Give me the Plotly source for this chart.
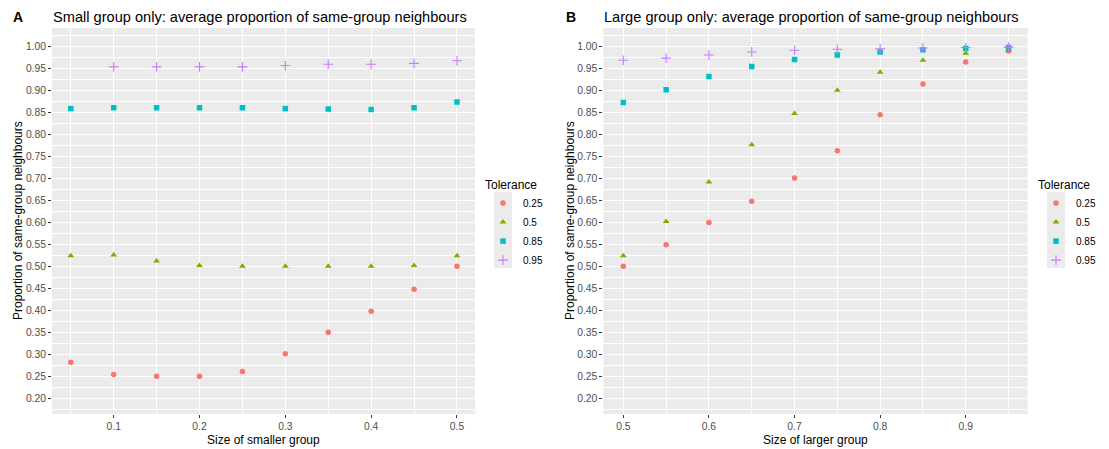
import plotly.graph_objects as go

# ---- data ----
tolerances = ["0.25", "0.5", "0.85", "0.95"]
small_sizes = [0.05, 0.10, 0.15, 0.20, 0.25, 0.30, 0.35, 0.40, 0.45, 0.50]
small_t025 = [0.282, 0.254, 0.250, 0.250, 0.261, 0.301, 0.350, 0.398, 0.448, 0.500]
small_t05 = [0.524, 0.526, 0.512, 0.502, 0.500, 0.500, 0.500, 0.500, 0.502, 0.524]
small_t085 = [0.859, 0.861, 0.861, 0.861, 0.861, 0.859, 0.858, 0.857, 0.861, 0.874]
small_t095 = [None, 0.954, 0.954, 0.954, 0.954, 0.957, 0.960, 0.960, 0.962, 0.968]

large_sizes = [0.50, 0.55, 0.60, 0.65, 0.70, 0.75, 0.80, 0.85, 0.90, 0.95]
large_t025 = [0.500, 0.549, 0.600, 0.648, 0.701, 0.763, 0.845, 0.915, 0.965, 0.990]
large_t05 = [0.524, 0.602, 0.692, 0.777, 0.848, 0.901, 0.942, 0.969, 0.985, 0.992]
large_t085 = [0.873, 0.902, 0.932, 0.955, 0.971, 0.981, 0.988, 0.993, 0.996, 0.998]
large_t095 = [0.969, 0.974, 0.981, 0.988, 0.992, 0.994, 0.995, 0.997, 0.998, 0.999]

y_ticks = [0.20, 0.25, 0.30, 0.35, 0.40, 0.45, 0.50, 0.55, 0.60, 0.65,
           0.70, 0.75, 0.80, 0.85, 0.90, 0.95, 1.00]
small_x_ticks = [0.1, 0.2, 0.3, 0.4, 0.5]
large_x_ticks = [0.5, 0.6, 0.7, 0.8, 0.9]

colors = ["#F8766D", "#7CAE00", "#00BFC4", "#C77CFF"]
symbols = ["circle", "triangle-up", "square", "cross-thin"]

W, H = 1109, 449
FONT = "Liberation Sans, Arial, sans-serif"


def px_x(p):
    return p / W


def px_y(p):
    return 1 - p / H


fig = go.Figure()

small_series = [small_t025, small_t05, small_t085, small_t095]
large_series = [large_t025, large_t05, large_t085, large_t095]


def marker(i):
    if symbols[i] == "cross-thin":
        return dict(symbol="cross-thin", size=7, color=colors[i],
                    line=dict(color=colors[i], width=1.1))
    size = {"circle": 5.5, "triangle-up": 6, "square": 5.5}[symbols[i]]
    return dict(symbol=symbols[i], size=size, color=colors[i], line=dict(width=0))


for i, t in enumerate(tolerances):
    fig.add_trace(go.Scatter(x=small_sizes, y=small_series[i], mode="markers",
                             name=t, marker=marker(i), xaxis="x", yaxis="y",
                             legend="legend"))
for i, t in enumerate(tolerances):
    fig.add_trace(go.Scatter(x=large_sizes, y=large_series[i], mode="markers",
                             name=t, marker=marker(i), xaxis="x2", yaxis="y2",
                             legend="legend2"))

tickfont = dict(family=FONT, size=10.3, color="#4D4D4D")
titlefont = dict(family=FONT, size=12, color="black")


def minor_between(vals):
    step = vals[1] - vals[0]
    out = [round(vals[0] - step / 2, 4)]
    out += [round(v + step / 2, 4) for v in vals]
    return out


common = dict(showgrid=True, gridcolor="white", gridwidth=1.1,
              ticks="outside", ticklen=3, tickcolor="#333333", tickwidth=1,
              tickfont=tickfont, zeroline=False, showline=False, automargin=False)

yax = dict(common, range=[0.164, 1.0425], tickmode="array",
           tickvals=y_ticks, ticktext=["%.2f" % v for v in y_ticks],
           minor=dict(tickmode="array", tickvals=minor_between(y_ticks),
                      showgrid=True, gridcolor="white", gridwidth=0.5),
           domain=[px_y(414), px_y(28)])

fig.update_layout(
    width=W, height=H,
    margin=dict(l=0, r=0, t=0, b=0),
    paper_bgcolor="white", plot_bgcolor="#EBEBEB",
    font=dict(family=FONT),
    xaxis=dict(common, range=[0.0281, 0.521], tickmode="array",
               tickvals=small_x_ticks, ticktext=[str(v) for v in small_x_ticks],
               minor=dict(tickmode="array", tickvals=minor_between(small_x_ticks),
                          showgrid=True, gridcolor="white", gridwidth=0.5),
               domain=[px_x(52), px_x(475)], anchor="y"),
    yaxis=dict(yax, anchor="x"),
    xaxis2=dict(common, range=[0.4766, 0.9724], tickmode="array",
                tickvals=large_x_ticks, ticktext=[str(v) for v in large_x_ticks],
                minor=dict(tickmode="array", tickvals=minor_between(large_x_ticks),
                           showgrid=True, gridcolor="white", gridwidth=0.5),
                domain=[px_x(603.3), px_x(1027.7)], anchor="y2"),
    yaxis2=dict(yax, anchor="x2"),
    legend=dict(x=px_x(483), y=px_y(173), xanchor="left", yanchor="top",
                title=dict(text="Tolerance", font=titlefont),
                font=dict(family=FONT, size=10, color="black"),
                bgcolor="rgba(0,0,0,0)", itemwidth=30, tracegroupgap=0),
    legend2=dict(x=px_x(1036), y=px_y(173), xanchor="left", yanchor="top",
                 title=dict(text="Tolerance", font=titlefont),
                 font=dict(family=FONT, size=10, color="black"),
                 bgcolor="rgba(0,0,0,0)", itemwidth=30, tracegroupgap=0),
    showlegend=True,
)

# legend key backgrounds
for x0, x1 in [(494, 512), (1047, 1065)]:
    fig.add_shape(type="rect", xref="paper", yref="paper",
                  x0=px_x(x0), x1=px_x(x1), y0=px_y(268), y1=px_y(192),
                  fillcolor="#EBEBEB", line=dict(width=0), layer="below")

# panel titles and tags
ann_font = dict(family=FONT, size=14.6, color="black")
tag_font = dict(family=FONT, size=14, color="black")
fig.add_annotation(text="<b>A</b>", x=px_x(11), y=px_y(17), xref="paper", yref="paper",
                   xanchor="left", yanchor="middle", showarrow=False, font=tag_font)
fig.add_annotation(text="Small group only: average proportion of same-group neighbours",
                   x=px_x(51), y=px_y(17), xref="paper", yref="paper",
                   xanchor="left", yanchor="middle", showarrow=False, font=ann_font)
fig.add_annotation(text="<b>B</b>", x=px_x(564), y=px_y(17), xref="paper", yref="paper",
                   xanchor="left", yanchor="middle", showarrow=False, font=tag_font)
fig.add_annotation(text="Large group only: average proportion of same-group neighbours",
                   x=px_x(602), y=px_y(17), xref="paper", yref="paper",
                   xanchor="left", yanchor="middle", showarrow=False, font=ann_font)

# axis titles
fig.add_annotation(text="Size of smaller group", x=px_x(263.5), y=px_y(440),
                   xref="paper", yref="paper", xanchor="center", yanchor="middle",
                   showarrow=False, font=titlefont)
fig.add_annotation(text="Size of larger group", x=px_x(815.5), y=px_y(440),
                   xref="paper", yref="paper", xanchor="center", yanchor="middle",
                   showarrow=False, font=titlefont)
for xc in (18, 570):
    fig.add_annotation(text="Proportion of same-group neighbours", x=px_x(xc),
                       y=px_y(221), xref="paper", yref="paper", xanchor="center",
                       yanchor="middle", textangle=-90, showarrow=False, font=titlefont)

fig.write_html("out.html", config={"displayModeBar": False},
               post_script="document.body.style.margin='0';document.body.style.padding='0';")
